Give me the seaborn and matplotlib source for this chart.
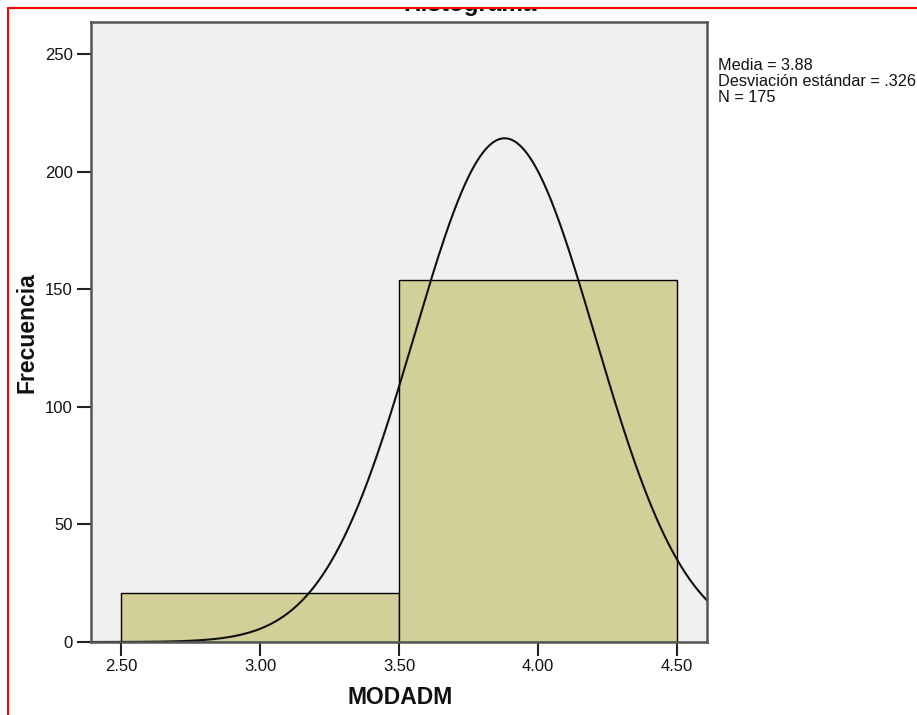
import numpy as np
import matplotlib
matplotlib.use("Agg")
import matplotlib.pyplot as plt
import seaborn as sns
from matplotlib.patches import Rectangle
from matplotlib.lines import Line2D

# Histogram data for MODADM
bin_edges = [2.5, 3.5, 4.5]
bin_centers = [3.0, 4.0]
frequencies = [21, 154]
mean_value = 3.88
std_value = 0.326
n_total = 175
x_ticks = [2.50, 3.00, 3.50, 4.00, 4.50]
x_tick_labels = ["2.50", "3.00", "3.50", "4.00", "4.50"]
y_ticks = [0, 50, 100, 150, 200, 250]
stats_lines = ["Media = 3.88", "Desviación estándar = .326", "N = 175"]

sns.set_style("white")
plt.rcParams["font.family"] = ["Liberation Sans", "DejaVu Sans"]

W, H = 917, 715
fig = plt.figure(figsize=(W / 100, H / 100), dpi=100)
fig.patch.set_facecolor("white")

def fx(px):
    return px / W

def fy(py):
    return 1 - py / H

ax = fig.add_axes([fx(91), fy(642), (707 - 91) / W, (642 - 22) / H])
ax.set_facecolor("#F0F0F0")

sns.histplot(x=bin_centers, weights=frequencies, bins=bin_edges, ax=ax,
             color="#D3CF98", alpha=1.0, edgecolor="black", linewidth=1.0)

# Normal curve scaled to counts (bin width 1)
bw = bin_edges[1] - bin_edges[0]
xs = np.linspace(2.392, 4.608, 400)
ys = n_total * bw / (std_value * np.sqrt(2 * np.pi)) * np.exp(-0.5 * ((xs - mean_value) / std_value) ** 2)
sns.lineplot(x=xs, y=ys, ax=ax, color="#111111", linewidth=1.5)

ax.set_xlim(2.392, 4.608)
ax.set_ylim(0, 263.6)
ax.set_xticks(x_ticks)
ax.set_xticklabels(x_tick_labels)
ax.set_yticks(y_ticks)
ax.tick_params(axis="both", which="major", bottom=True, left=True, length=10,
               width=1.5, color="#222222", labelsize=12, labelcolor="#111111",
               pad=3, direction="out")
ax.tick_params(axis="x", pad=2)
for s in ax.spines.values():
    s.set_visible(True)
    s.set_color("#555555")
    s.set_linewidth(1.8)
ax.set_xlabel("")
ax.set_ylabel("")

fig.text(fx(400), fy(698), "MODADM", ha="center", va="center",
         fontsize=16.5, fontweight="bold", color="#111111")
fig.text(fx(27), fy(333), "Frecuencia", ha="center", va="center", rotation=90,
         fontsize=16.5, fontweight="bold", color="#111111")

for i, line in enumerate(stats_lines):
    fig.text(fx(718), fy(65 + 16 * i), line, ha="left", va="center",
             fontsize=11.7, color="#111111")

# Title, partly hidden by the window frame at the top
fig.text(fx(470), fy(11.5), "Histograma", ha="center", va="baseline",
         fontsize=17.5, fontweight="bold", color="#111111")
fig.patches.append(Rectangle((0, fy(8)), 1, 1 - fy(8), transform=fig.transFigure,
                             facecolor="white", edgecolor="none", zorder=5))
fig.lines.append(Line2D([fx(8), 1], [fy(8), fy(8)], transform=fig.transFigure,
                        color="#FF0000", linewidth=1.5, zorder=6))
fig.lines.append(Line2D([fx(8), fx(8)], [fy(8), 0], transform=fig.transFigure,
                        color="#FF0000", linewidth=1.5, zorder=6))

fig.savefig("out.png", dpi=100, facecolor="white")
